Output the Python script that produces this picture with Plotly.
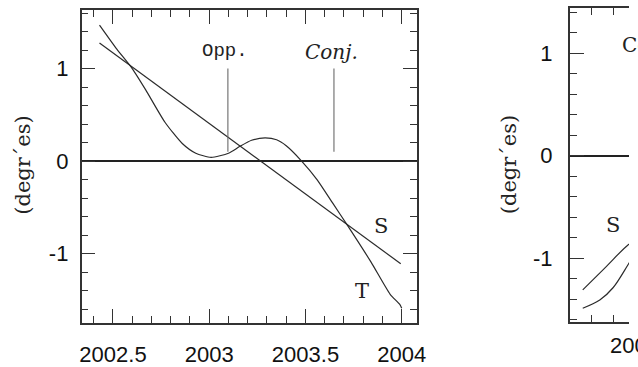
import plotly.graph_objects as go

# ---------------- data: left panel ----------------
t_years = [2002.43, 2002.52, 2002.60, 2002.67, 2002.77, 2002.86, 2002.93, 2003.01,
           2003.10, 2003.16, 2003.22, 2003.29, 2003.35, 2003.40, 2003.48, 2003.56,
           2003.64, 2003.72, 2003.84, 2003.94, 2003.99, 2004.00]
t_values = [1.47, 1.21, 1.00, 0.77, 0.42, 0.19, 0.085, 0.04,
            0.085, 0.16, 0.225, 0.25, 0.23, 0.165, 0.0, -0.20,
            -0.45, -0.70, -1.09, -1.44, -1.55, -1.59]
s_years = [2002.43, 2003.995]
s_values = [1.276, -1.11]
opp_year = 2003.097
conj_year = 2003.648
event_span = [0.10, 1.0]

x_tick_vals = [2002.5, 2003.0, 2003.5, 2004.0]
x_tick_text = ["2002.5", "2003", "2003.5", "2004"]
y_tick_vals = [-1, 0, 1]
y_tick_text = ["-1", "0", "1"]

# ---------------- data: right panel (cut off) ----------------
r_s_years = [2002.758, 2002.860, 2002.969, 2002.99]
r_s_values = [-1.31, -1.10, -0.874, -0.85]
r_t_years = [2002.758, 2002.838, 2002.900, 2002.969, 2002.99]
r_t_values = [-1.49, -1.41, -1.29, -1.07, -1.00]
r_x_tick_vals = [2003.0]
r_x_tick_text = ["2003"]

W, H = 638, 367
def pxx(x):
    return x / W
def pxy(y):
    return 1 - y / H

INK = "#2b2b2b"
AX = "#333333"
curve = dict(color=INK, width=1.2)

fig = go.Figure()
fig.add_trace(go.Scatter(x=s_years, y=s_values, mode="lines", line=curve,
                         xaxis="x", yaxis="y", showlegend=False, hoverinfo="skip"))
fig.add_trace(go.Scatter(x=t_years, y=t_values, mode="lines",
                         line=dict(color=INK, width=1.2, shape="spline", smoothing=0.6),
                         xaxis="x", yaxis="y", showlegend=False, hoverinfo="skip"))
for yr in (opp_year, conj_year):
    fig.add_trace(go.Scatter(x=[yr, yr], y=event_span, mode="lines",
                             line=dict(color="#6a6a6a", width=1.1),
                             xaxis="x", yaxis="y", showlegend=False, hoverinfo="skip"))
fig.add_trace(go.Scatter(x=r_s_years, y=r_s_values, mode="lines",
                         line=dict(color=INK, width=1.2, shape="spline"),
                         xaxis="x2", yaxis="y2", showlegend=False, hoverinfo="skip"))
fig.add_trace(go.Scatter(x=r_t_years, y=r_t_values, mode="lines",
                         line=dict(color=INK, width=1.2, shape="spline"),
                         xaxis="x2", yaxis="y2", showlegend=False, hoverinfo="skip"))

tickfont = dict(family="Liberation Sans, Arial, sans-serif", size=22, color="#111111")
common = dict(showline=True, linecolor=AX, linewidth=1.6, ticks="inside",
              ticklen=14, tickwidth=1.3, tickcolor=AX, showgrid=False,
              tickfont=tickfont, tickmode="array", fixedrange=True)

fig.update_layout(
    width=W, height=H, margin=dict(l=0, r=0, t=0, b=0),
    paper_bgcolor="white", plot_bgcolor="white",
    xaxis=dict(common, domain=[pxx(81), pxx(422)], range=[2002.337, 2004.078],
               tickvals=x_tick_vals, ticktext=x_tick_text, mirror="ticks",
               zeroline=False, anchor="y", ticklabelstandoff=11,
               minor=dict(ticks="inside", ticklen=7, tickwidth=1.1, tickcolor=AX,
                          dtick=0.1, tick0=2002.5, showgrid=False)),
    yaxis=dict(common, domain=[pxy(325), pxy(10)], range=[-1.753, 1.634],
               tickvals=y_tick_vals, ticktext=y_tick_text, mirror="ticks",
               zeroline=True, zerolinecolor="#222222", zerolinewidth=1.5,
               anchor="x", ticklabelstandoff=7,
               minor=dict(ticks="inside", ticklen=7, tickwidth=1.1, tickcolor=AX,
                          dtick=0.2, tick0=0, showgrid=False)),
    xaxis2=dict(common, domain=[pxx(577.7), 1.0], range=[2002.697, 2002.975],
                tickvals=r_x_tick_vals, ticktext=r_x_tick_text, mirror="ticks",
                zeroline=False, anchor="y2",
                minor=dict(ticks="inside", ticklen=7, tickwidth=1.1, tickcolor=AX,
                           dtick=0.1, tick0=2002.5, showgrid=False)),
    yaxis2=dict(common, domain=[pxy(323.3), pxy(8.3)], range=[-1.62, 1.44],
                tickvals=y_tick_vals, ticktext=y_tick_text, mirror=False,
                zeroline=True, zerolinecolor="#222222", zerolinewidth=1.5,
                anchor="x2", ticklabelstandoff=11,
                minor=dict(ticks="inside", ticklen=7, tickwidth=1.1, tickcolor=AX,
                           dtick=0.2, tick0=0, showgrid=False)),
)

serif = "DejaVu Serif, serif"
c = dict(showarrow=False, xanchor="center", yanchor="middle")
ann = [
    dict(c, text="Opp.", x=2003.084, y=1.194, xref="x", yref="y",
         font=dict(family="Courier New, Liberation Mono, monospace", size=19, color="#222")),
    dict(c, text="<i>Conj.</i>", x=2003.633, y=1.183, xref="x", yref="y",
         font=dict(family=serif, size=20, color="#222")),
    dict(c, text="S", x=2003.892, y=-0.70, xref="x", yref="y",
         font=dict(family=serif, size=21, color="#222")),
    dict(c, text="T", x=2003.796, y=-1.40, xref="x", yref="y",
         font=dict(family=serif, size=21, color="#222")),
    dict(c, text="S", x=2002.900, y=-0.673, xref="x2", yref="y2",
         font=dict(family=serif, size=21, color="#222")),
    dict(c, text="(degr\u00b4es)", x=pxx(21), y=pxy(166), xref="paper", yref="paper",
         textangle=-90, font=dict(family=serif, size=21, color="#222")),
    dict(c, text="(degr\u00b4es)", x=pxx(516), y=pxy(166), xref="paper", yref="paper",
         textangle=-90, font=dict(family=serif, size=21, color="#222")),
    dict(c, text="Conj.", x=pxx(629), y=pxy(45), xref="paper", yref="paper",
         font=dict(family=serif, size=20, color="#222")),
    dict(c, text=r_x_tick_text[0], x=pxx(643.4), y=pxy(347), xref="paper", yref="paper",
         font=tickfont),
]
ann[7]["xanchor"] = "left"
fig.update_layout(annotations=ann)

fig.write_html("out.html")
